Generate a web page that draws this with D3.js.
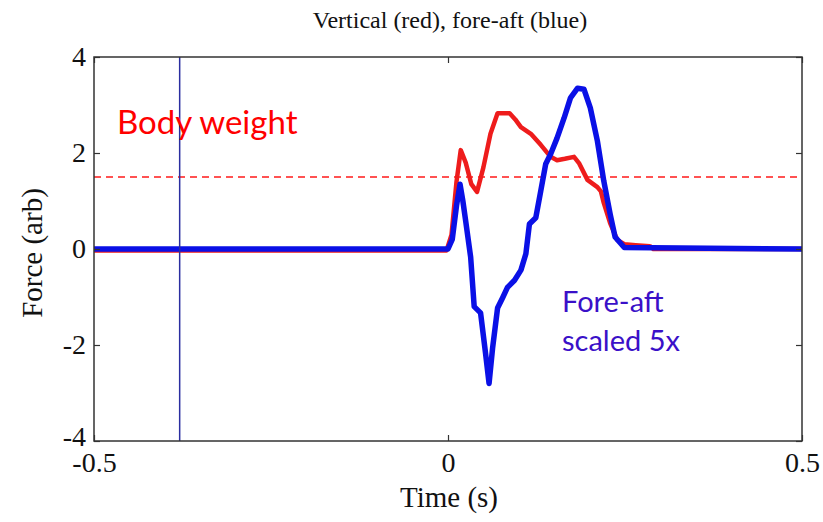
<!DOCTYPE html>
<html>
<head>
<meta charset="utf-8">
<script src="https://cdn.jsdelivr.net/npm/d3@7"></script>
<style>
  body { margin: 0; background: #fff; }
  svg { display: block; }
</style>
</head>
<body>
<svg id="chart" width="823" height="522"></svg>
<script>
'use strict';

// vertical force (red), time in s
var redT = [-0.5, -0.002, 0.005, 0.012, 0.018, 0.025, 0.033, 0.041, 0.05, 0.06, 0.07, 0.087, 0.095,
            0.103, 0.117, 0.131, 0.145, 0.154, 0.165, 0.178, 0.185, 0.197, 0.211, 0.216, 0.22,
            0.229, 0.239, 0.249, 0.265, 0.285, 0.29, 0.5];
var redV = [-0.03, -0.03, 0.3, 1.4, 2.06, 1.8, 1.35, 1.19, 1.7, 2.4, 2.83, 2.83, 2.7,
            2.54, 2.4, 2.17, 1.92, 1.85, 1.88, 1.92, 1.79, 1.44, 1.29, 1.2, 0.96,
            0.54, 0.19, 0.1, 0.08, 0.06, 0, 0];

// fore-aft force scaled 5x (blue)
var blueT = [-0.5, 0.0, 0.006, 0.012, 0.017, 0.021, 0.025, 0.032, 0.037, 0.046, 0.053, 0.058,
             0.063, 0.07, 0.077, 0.084, 0.094, 0.103, 0.11, 0.115, 0.124, 0.131, 0.138, 0.145,
             0.154, 0.164, 0.173, 0.183, 0.192, 0.201, 0.211, 0.22, 0.229, 0.236, 0.249, 0.5];
var blueV = [0, 0, 0.2, 0.9, 1.35, 1.0, 0.58, -0.17, -1.2, -1.33, -2.17, -2.8,
             -2.06, -1.23, -1.02, -0.8, -0.65, -0.44, -0.1, 0.52, 0.65, 1.21, 1.77, 1.98,
             2.31, 2.73, 3.15, 3.35, 3.33, 2.94, 2.25, 1.42, 0.73, 0.25, 0.03, 0];

var bodyWeight = 1.5;
var markerTime = -0.379;

var xTicks = [-0.5, 0, 0.5];
var yTicks = [-4, -2, 0, 2, 4];

var svg = d3.select('#chart');
var margin = {top: 57, right: 21, bottom: 81, left: 94},
    width = 823 - margin.left - margin.right,
    height = 522 - margin.top - margin.bottom;

var x = d3.scaleLinear().domain([-0.5, 0.5]).range([0, width]);
var y = d3.scaleLinear().domain([-4, 4]).range([height, 0]);

var g = svg.append('g').attr('transform', 'translate(' + margin.left + ',' + margin.top + ')');

g.append('defs').append('clipPath').attr('id', 'clip')
  .append('rect').attr('width', width).attr('height', height);

var plot = g.append('g').attr('clip-path', 'url(#clip)');

// body weight level
plot.append('line')
  .attr('x1', 0).attr('x2', width)
  .attr('y1', y(bodyWeight)).attr('y2', y(bodyWeight))
  .attr('stroke', '#ff1a1a').attr('stroke-width', 1.6)
  .attr('stroke-dasharray', '7,5');

var line = d3.line().x(function(d) { return x(d[0]); }).y(function(d) { return y(d[1]); });

plot.append('path')
  .datum(d3.zip(redT, redV))
  .attr('d', line)
  .attr('fill', 'none').attr('stroke', '#ee1c1c').attr('stroke-width', 4.5)
  .attr('stroke-linejoin', 'round');

plot.append('path')
  .datum(d3.zip(blueT, blueV))
  .attr('d', line)
  .attr('fill', 'none').attr('stroke', '#0a10e6').attr('stroke-width', 5.5)
  .attr('stroke-linejoin', 'round');

// marker line
plot.append('line')
  .attr('x1', x(markerTime)).attr('x2', x(markerTime))
  .attr('y1', 0).attr('y2', height)
  .attr('stroke', '#2a2ea0').attr('stroke-width', 1.5);

// axes, matlab style ticks inside, plain hyphen for minus
var axisFont = '"Liberation Serif", "Times New Roman", serif';
var plain = function(d) { return String(d); };
var xAxis = g.append('g').attr('transform', 'translate(0,' + height + ')')
  .call(d3.axisBottom(x).tickValues(xTicks).tickSize(-6).tickPadding(14).tickFormat(plain));
var yAxis = g.append('g')
  .call(d3.axisLeft(y).tickValues(yTicks).tickSize(-6).tickPadding(8).tickFormat(plain));
g.append('g').attr('transform', 'translate(' + width + ',0)')
  .call(d3.axisRight(y).tickValues(yTicks).tickSize(-6).tickFormat(''));
g.append('g')
  .call(d3.axisTop(x).tickValues(xTicks).tickSize(-6).tickFormat(''));

g.selectAll('.domain').remove();
g.selectAll('.tick line').attr('stroke', '#333').attr('stroke-width', 1.2);
g.selectAll('.tick text').attr('fill', '#111').style('font-family', axisFont).style('font-size', '28px');
xAxis.selectAll('.tick text').attr('dy', '0.6em');
yAxis.selectAll('.tick text').attr('dy', function(d) { return d === -4 ? '0.15em' : '0.3em'; });

g.append('rect')
  .attr('width', width).attr('height', height)
  .attr('fill', 'none').attr('stroke', '#333').attr('stroke-width', 1.5);

// titles
svg.append('text')
  .attr('x', 450).attr('y', 28)
  .attr('text-anchor', 'middle')
  .style('font-family', axisFont).style('font-size', '24px').attr('fill', '#111')
  .text('Vertical (red), fore-aft (blue)');

svg.append('text')
  .attr('x', 449).attr('y', 507)
  .attr('text-anchor', 'middle')
  .style('font-family', axisFont).style('font-size', '29px').attr('fill', '#111')
  .text('Time (s)');

svg.append('text')
  .attr('transform', 'translate(42,' + (margin.top + height / 2 + 4) + ') rotate(-90)')
  .attr('text-anchor', 'middle')
  .style('font-family', axisFont).style('font-size', '29px').attr('fill', '#111')
  .text('Force (arb)');

// annotations
var noteFont = 'Lato, "Open Sans", sans-serif';
svg.append('text')
  .attr('x', 117).attr('y', 134)
  .style('font-family', noteFont).style('font-size', '33px').attr('fill', '#ff0000')
  .text('Body weight');

svg.append('text')
  .attr('x', 562).attr('y', 312)
  .style('font-family', noteFont).style('font-size', '29px').attr('fill', '#3a10c8')
  .text('Fore-aft');
svg.append('text')
  .attr('x', 562).attr('y', 351)
  .style('font-family', noteFont).style('font-size', '29px').attr('fill', '#3a10c8')
  .text('scaled 5x');
</script>
</body>
</html>
